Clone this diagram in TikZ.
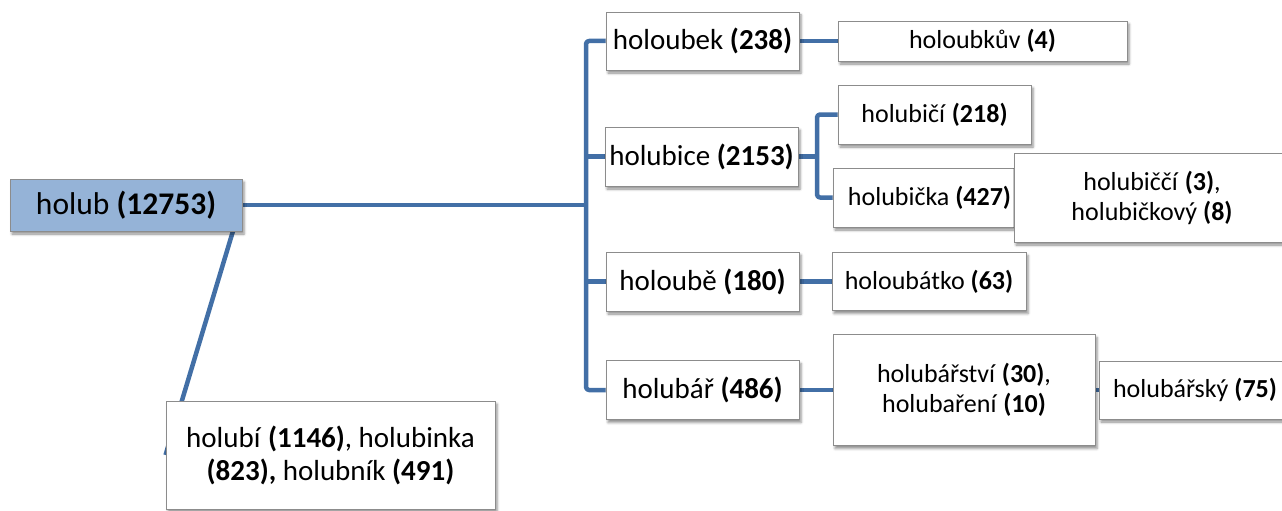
\documentclass[tikz,border=0pt]{standalone}
\usepackage{fontspec}
\setmainfont{Carlito}
\usetikzlibrary{shadows.blur}
\definecolor{linkblue}{RGB}{66,111,166}
\definecolor{rootfill}{RGB}{149,179,215}
\definecolor{boxline}{RGB}{140,140,140}
\pgfdeclarelayer{background}
\pgfsetlayers{background,main}
\tikzset{
  box/.style={draw=boxline, line width=0.9pt, fill=white, inner sep=2pt, align=center,
    blur shadow={shadow xshift=2pt, shadow yshift=-3pt, shadow blur radius=2.5pt, shadow opacity=45}},
  smalltext/.style={font=\fontsize{26}{30}\selectfont},
  midtext/.style={font=\fontsize{29}{33}\selectfont},
  link/.style={draw=linkblue, line width=4.5pt, line join=round, rounded corners=3pt}
}
\begin{document}
\begin{tikzpicture}[x=1pt,y=-1pt]
\clip (0,0) rectangle (1282,511);

% word-family boxes
\node[box, fill=rootfill, font=\fontsize{31.5}{36}\selectfont, minimum width=232pt, minimum height=52pt] (root) at (126,205) {holub \textbf{(12753)}};

\node[box, midtext, minimum width=193pt, minimum height=58pt] (holoubek) at (702.5,41) {holoubek \textbf{(238)}};
\node[box, smalltext, minimum width=289pt, minimum height=40pt] (holoubkuv) at (982.5,41) {holoubkův \textbf{(4)}};

\node[box, midtext, minimum width=193pt, minimum height=59pt] (holubice) at (701.5,156.5) {holubice \textbf{(2153)}};
\node[box, smalltext, minimum width=193pt, minimum height=59pt] (holubici) at (934.5,114.5) {holubičí \textbf{(218)}};
\node[box, smalltext, minimum width=193pt, minimum height=59pt] (holubicka) at (929.5,197.5) {holubička \textbf{(427)}};
\node[box, smalltext, minimum width=276pt, minimum height=89pt] (holubicci) at (1152,197.5) {holubiččí \textbf{(3)},\\ holubičkový \textbf{(8)}};

\node[box, midtext, minimum width=193pt, minimum height=59pt] (holoube) at (702.5,281.5) {holoubě \textbf{(180)}};
\node[box, smalltext, minimum width=194pt, minimum height=58pt] (holoubatko) at (929,281.5) {holoubátko \textbf{(63)}};

\node[box, midtext, minimum width=193pt, minimum height=59pt] (holubar) at (702.5,390) {holubář \textbf{(486)}};
\node[box, smalltext, minimum width=262pt, minimum height=111pt] (holubarstvi) at (964,390) {holubářství \textbf{(30)},\\ holubaření \textbf{(10)}};
\node[box, smalltext, minimum width=192pt, minimum height=58pt] (holubarsky) at (1195,390) {holubářský \textbf{(75)}};

\node[box, midtext, minimum width=329pt, minimum height=108pt] (bottom) at (330.5,455) {holubí \textbf{(1146)}, holubinka\\ \textbf{(823),} holubník \textbf{(491)}};

% junction points of the tree
\coordinate (trunk) at (586,205);
\coordinate (fork) at (817,156.5);
\coordinate (rootfoot) at (233,231);

\begin{pgfonlayer}{background}
  \draw[link] (root.east) -- (trunk);
  \draw[link] (holoubek.west) -| (trunk |- holubar.west) -- (holubar.west);
  \draw[link] (trunk |- holubice.west) -- (holubice.west);
  \draw[link] (trunk |- holoube.west) -- (holoube.west);
  \draw[link] (holoubek.east) -- (holoubkuv.west);
  \draw[link] (holubice.east) -- (fork);
  \draw[link] (holubici.west) -| (fork |- holubicka.west) -- (holubicka.west);
  \draw[link] (holoube.east) -- (holoubatko.west);
  \draw[link] (holubar.east) -- (holubarstvi.west);
  \draw[link] (holubarstvi.east) -- (holubarsky.west);
  \draw[link] (rootfoot) -- (bottom.west);
\end{pgfonlayer}
\end{tikzpicture}
\end{document}
